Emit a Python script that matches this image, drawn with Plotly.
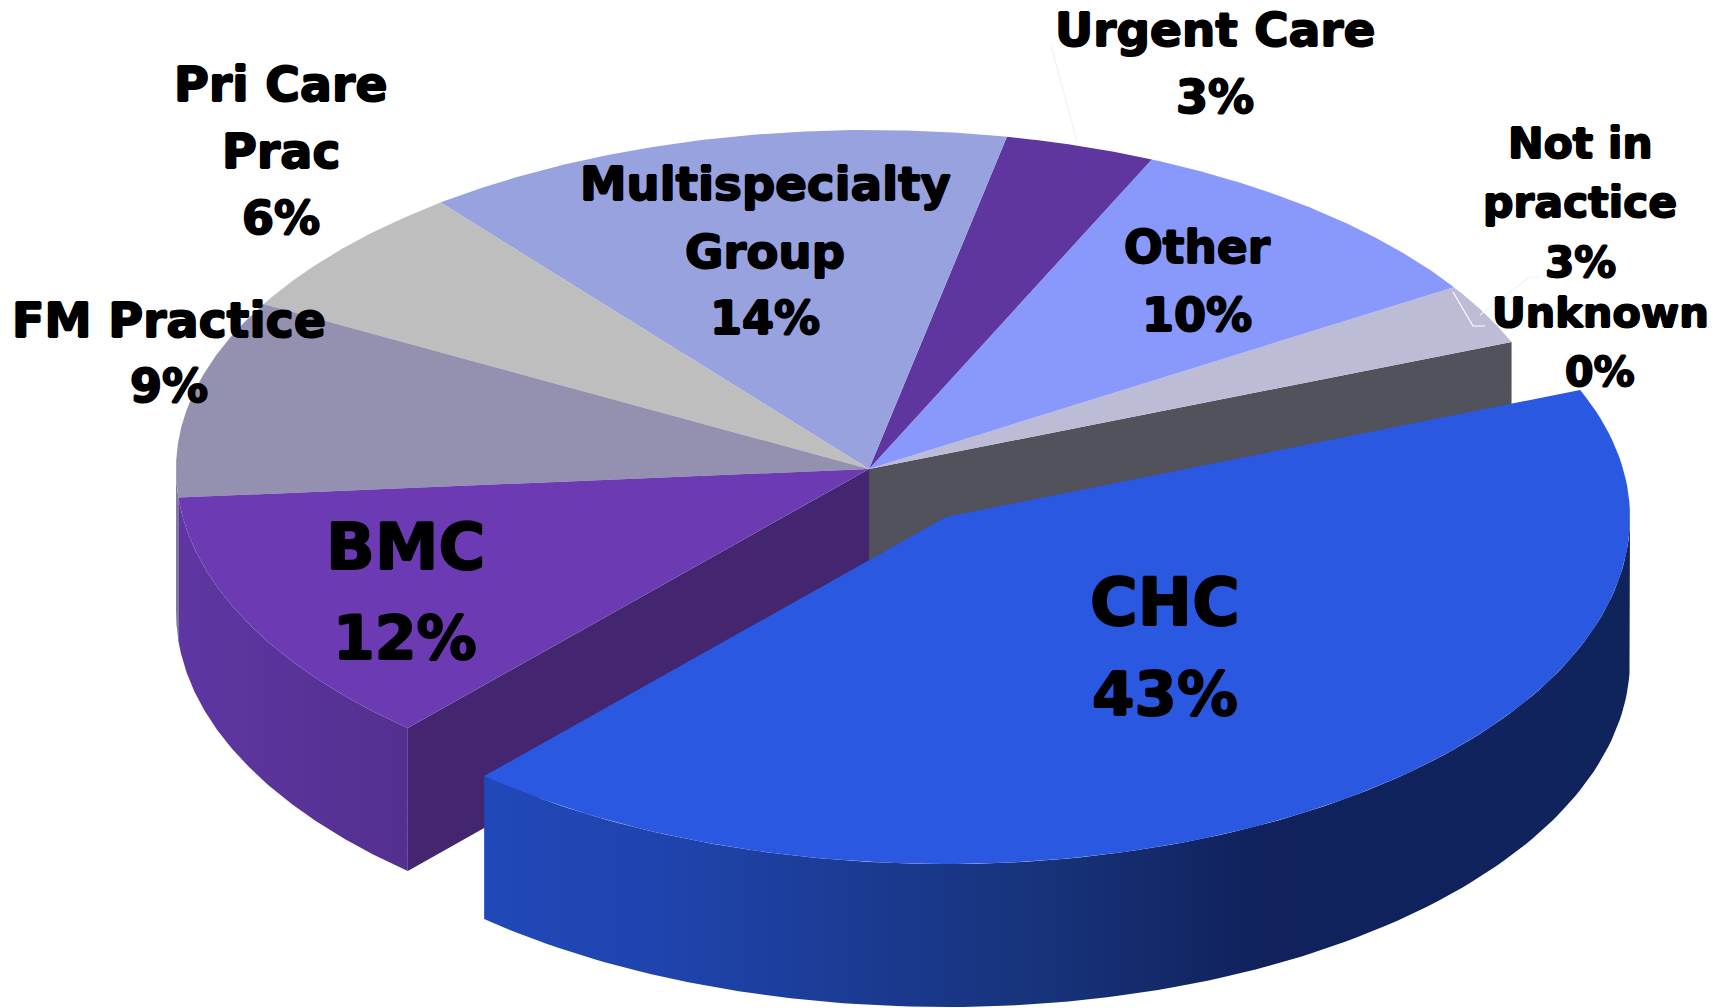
import numpy as np
import plotly.graph_objects as go

# ---- data ----
categories = ["Unknown", "Not in<br>practice", "Other", "Urgent Care", "Multispecialty<br>Group",
              "Pri Care<br>Prac", "FM Practice", "BMC", "CHC"]
# percentages as printed on the chart
percent_labels = [0, 3, 10, 3, 14, 6, 9, 12, 43]
values = [0, 2.9, 9.3, 3.5, 13.8, 6.3, 9.4, 12.1, 42.7]

# ---- style ----
colors = ["#52525c", "#bcbcd6", "#8899fb", "#5f35a0", "#98a2df", "#bebebe", "#9391af", "#6c3bb3", "#2a58e0"]
W, H = 1725, 1008
START = 22.0
CX, CY, RX, RY_UP, RY_DN = 869, 469, 693, 339, 347
OFFX, OFFY, RX_CHC, RX_CHC_LEFT = 77, 48, 684, 694
DEPTH = 143
GLOW = "0.9px 0 0 #000, -0.9px 0 0 #000, 0 0.9px 0 #000, 0 -0.9px 0 #000"

# label placement: centre x, y of each line, name font size, percent font size
label_pos = {
    "Unknown": (1600, [312, 372], 41.5, 41),
    "Not in<br>practice": (1580, [143, 202, 262], 42.5, 42),
    "Other": (1197, [247, 315], 45.5, 46),
    "Urgent Care": (1215, [29, 97], 47, 46),
    "Multispecialty<br>Group": (765, [184, 252, 318], 46.7, 46),
    "Pri Care<br>Prac": (281, [84, 151, 218], 47.5, 46),
    "FM Practice": (169, [320, 386], 47.5, 46),
    "BMC": (405, [547, 638], 64, 60),
    "CHC": (1165, [602, 693], 65, 61),
}
leaders = [
    ([1453, 1473, 1485], [292, 326, 326], "#ffffff"),
    ([1480, 1530, 1540], [315, 277, 277], "#f2f2f2"),
    ([1051, 1077], [45, 142], "#f3f3f3"),
]


def rim(t0, t1, cx, cy, rx, n=120, rx_left=None):
    t = np.radians(np.linspace(t0, t1, n))
    s, c = np.sin(t), np.cos(t)
    rxs = np.where(c < 0, rx_left if rx_left else rx, rx)
    return cx + rxs * c, cy - np.where(s > 0, RY_UP, RY_DN) * s


def poly(x, y, color=None, gradient=None):
    kw = dict(x=list(x) + [x[0]], y=list(y) + [y[0]], mode="lines", fill="toself",
              line=dict(width=0), hoverinfo="skip", showlegend=False)
    if gradient:
        kw["fillgradient"] = dict(type="horizontal", colorscale=gradient)
    else:
        kw["fillcolor"] = color
    return go.Scatter(**kw)


edges = START + np.cumsum([0] + values) * 3.6
fig = go.Figure()

# cut faces of the remaining pie
for t, col in ((START, "#52525c"), (edges[-2], "#44256f")):
    x, y = rim(t, t, CX, CY, RX, 1)
    fig.add_trace(poly([CX, x[0], x[0], CX], [CY, y[0], y[0] + DEPTH, CY + DEPTH], col))

# outer walls of BMC and FM
x, y = rim(180, edges[-3], CX, CY, RX)
fig.add_trace(poly(np.r_[x, x[::-1]], np.r_[y, y[::-1] + DEPTH], "#7f7f9a"))
x, y = rim(edges[-3], edges[-2], CX, CY, RX)
fig.add_trace(poly(np.r_[x, x[::-1]], np.r_[y, y[::-1] + DEPTH],
                   gradient=[[0, "#5f36a2"], [1, "#53308f"]]))

# top faces
for i in range(len(values) - 1):
    if values[i] == 0:
        continue
    x, y = rim(edges[i], edges[i + 1], CX, CY, RX)
    fig.add_trace(poly(np.r_[CX, x], np.r_[CY, y], colors[i]))

# exploded CHC slice
x, y = rim(edges[-2], 360, CX + OFFX, CY + OFFY, RX_CHC, rx_left=RX_CHC_LEFT)
fig.add_trace(poly(np.r_[x, x[::-1]], np.r_[y, y[::-1] + DEPTH],
                   gradient=[[0, "#2148b8"], [0.15, "#1f44ae"], [0.5, "#173278"],
                             [0.68, "#10215c"], [1, "#10245c"]]))
x, y = rim(edges[-2], edges[-1], CX + OFFX, CY + OFFY, RX_CHC, rx_left=RX_CHC_LEFT)
fig.add_trace(poly(np.r_[CX + OFFX, x], np.r_[CY + OFFY, y], colors[-1]))

for lx, ly, col in leaders:
    fig.add_trace(go.Scatter(x=lx, y=ly, mode="lines", line=dict(color=col, width=1.2),
                             hoverinfo="skip", showlegend=False))

# labels
for cat, pct in zip(categories, percent_labels):
    cx, ys, size, pct_size = label_pos[cat]
    names = cat.split("<br>")
    lines = [(n, size) for n in names] + [(f"{pct}%", pct_size)]
    for (line, sz), yy in zip(lines, ys):
        fig.add_annotation(x=cx, y=yy, text=line, showarrow=False, xanchor="center", yanchor="middle",
                           font=dict(family="DejaVu Sans", size=sz, color="#000000", weight="bold",
                                     shadow=GLOW))

fig.update_layout(
    width=W, height=H, margin=dict(l=0, r=0, t=0, b=0),
    paper_bgcolor="#ffffff", plot_bgcolor="#ffffff",
    xaxis=dict(range=[0, W], visible=False, fixedrange=True),
    yaxis=dict(range=[H, 0], visible=False, fixedrange=True),
    showlegend=False,
)
fig.write_html("out.html", config={"displayModeBar": False},
               post_script="document.body.style.margin='0';")
